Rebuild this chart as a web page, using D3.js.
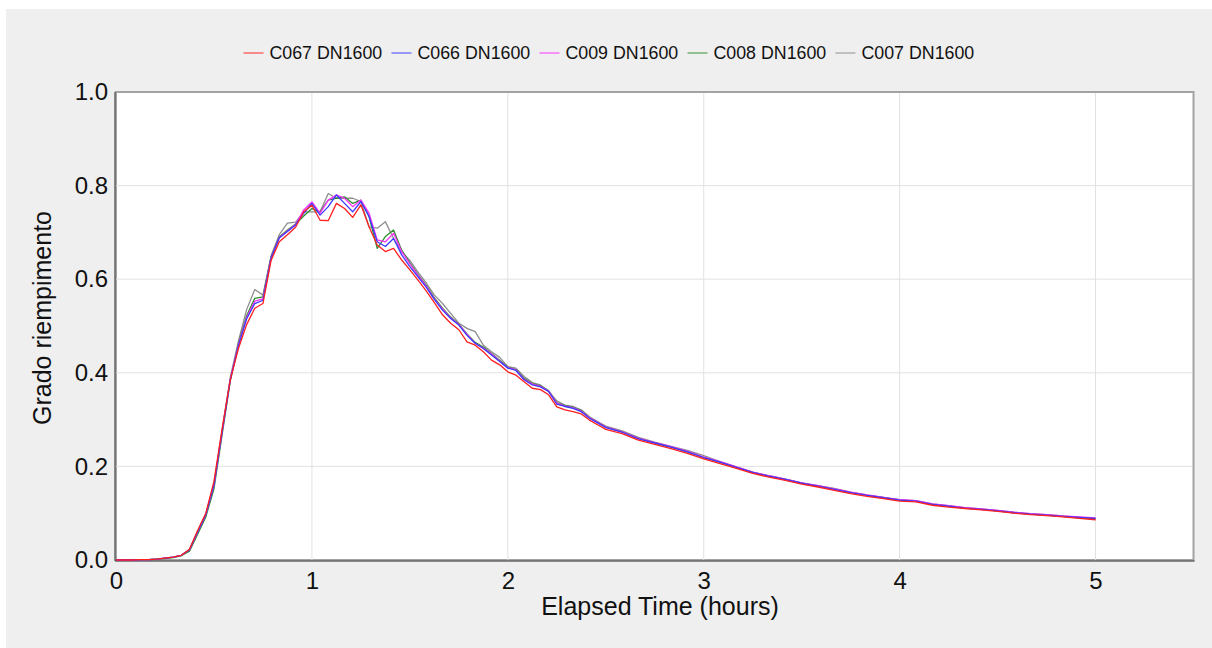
<!DOCTYPE html>
<html>
<head>
<meta charset="utf-8">
<script src="https://cdn.jsdelivr.net/npm/d3@7"></script>
<style>
  body { margin: 0; background: #ffffff; }
  svg { display: block; font-family: "Liberation Sans", Arial, sans-serif; }
</style>
</head>
<body>
<div id="chart"></div>
<script>
const width = 1212;
const height = 648;
const plot = {left: 116, right: 1193.5, top: 92, bottom: 560};

// Data: elapsed minutes (2.5 min steps up to 150, then 5 min steps)
const minutes = [
  0, 2.5, 5, 7.5, 10, 12.5, 15, 17.5, 20, 22.5,
  25, 27.5, 30, 32.5, 35, 37.5, 40, 42.5, 45, 47.5,
  50, 52.5, 55, 57.5, 60, 62.5, 65, 67.5, 70, 72.5,
  75, 77.5, 80, 82.5, 85, 87.5, 90, 92.5, 95, 97.5,
  100, 102.5, 105, 107.5, 110, 112.5, 115, 117.5, 120, 122.5,
  125, 127.5, 130, 132.5, 135, 137.5, 140, 142.5, 145, 147.5, 150,
  155, 160, 165, 170, 175, 180, 185, 190, 195, 200,
  205, 210, 215, 220, 225, 230, 235, 240, 245, 250,
  255, 260, 265, 270, 275, 280, 285, 290, 295, 300
];

const seriesNames = ["C067 DN1600", "C066 DN1600", "C009 DN1600", "C008 DN1600", "C007 DN1600"];

const c067 = [
  0, 0, 0, 0.001, 0.001, 0.002, 0.004, 0.006, 0.010, 0.023,
  0.063, 0.100, 0.168, 0.280, 0.385, 0.452, 0.503, 0.538, 0.548, 0.640,
  0.680, 0.695, 0.711, 0.744, 0.758, 0.726, 0.725, 0.762, 0.751, 0.732,
  0.759, 0.712, 0.673, 0.659, 0.666, 0.641, 0.620, 0.598, 0.575, 0.550,
  0.524, 0.506, 0.492, 0.466, 0.459, 0.445, 0.427, 0.417, 0.402, 0.395,
  0.381, 0.367, 0.364, 0.353, 0.327, 0.321, 0.317, 0.312, 0.299, 0.289, 0.279,
  0.270, 0.256, 0.247, 0.238, 0.228, 0.216, 0.206, 0.196, 0.185, 0.177,
  0.170, 0.162, 0.156, 0.149, 0.142, 0.136, 0.131, 0.126, 0.124, 0.117,
  0.113, 0.110, 0.107, 0.104, 0.100, 0.097, 0.095, 0.092, 0.089, 0.086
];
const c066 = [
  0, 0, 0, 0.001, 0.001, 0.002, 0.004, 0.006, 0.010, 0.022,
  0.060, 0.097, 0.160, 0.274, 0.385, 0.458, 0.515, 0.548, 0.555, 0.645,
  0.688, 0.702, 0.716, 0.741, 0.762, 0.737, 0.755, 0.780, 0.762, 0.744,
  0.766, 0.734, 0.680, 0.670, 0.687, 0.652, 0.627, 0.605, 0.583, 0.557,
  0.534, 0.516, 0.502, 0.480, 0.463, 0.452, 0.438, 0.424, 0.410, 0.405,
  0.385, 0.374, 0.370, 0.360, 0.333, 0.328, 0.324, 0.317, 0.303, 0.293, 0.283,
  0.273, 0.259, 0.250, 0.241, 0.231, 0.219, 0.209, 0.198, 0.187, 0.179,
  0.172, 0.164, 0.158, 0.151, 0.144, 0.138, 0.133, 0.128, 0.126, 0.119,
  0.115, 0.111, 0.108, 0.105, 0.101, 0.098, 0.096, 0.093, 0.091, 0.089
];
const c009 = [
  0, 0, 0, 0.001, 0.001, 0.002, 0.004, 0.006, 0.010, 0.022,
  0.060, 0.097, 0.160, 0.275, 0.386, 0.460, 0.518, 0.553, 0.558, 0.646,
  0.689, 0.703, 0.717, 0.748, 0.765, 0.741, 0.769, 0.780, 0.773, 0.755,
  0.769, 0.741, 0.684, 0.680, 0.698, 0.659, 0.633, 0.608, 0.585, 0.558,
  0.536, 0.517, 0.503, 0.482, 0.463, 0.453, 0.440, 0.425, 0.411, 0.406,
  0.386, 0.376, 0.371, 0.361, 0.335, 0.329, 0.325, 0.318, 0.304, 0.294, 0.284,
  0.274, 0.260, 0.251, 0.242, 0.232, 0.220, 0.210, 0.199, 0.188, 0.180,
  0.173, 0.165, 0.159, 0.152, 0.145, 0.139, 0.134, 0.129, 0.127, 0.120,
  0.116, 0.112, 0.109, 0.106, 0.102, 0.099, 0.097, 0.094, 0.092, 0.090
];
const c008 = [
  0, 0, 0, 0.001, 0.001, 0.002, 0.003, 0.005, 0.009, 0.019,
  0.055, 0.092, 0.152, 0.268, 0.382, 0.462, 0.522, 0.559, 0.562, 0.648,
  0.690, 0.705, 0.718, 0.735, 0.751, 0.744, 0.769, 0.773, 0.776, 0.762,
  0.769, 0.734, 0.666, 0.691, 0.705, 0.662, 0.635, 0.610, 0.587, 0.560,
  0.538, 0.519, 0.504, 0.483, 0.465, 0.455, 0.441, 0.427, 0.412, 0.407,
  0.388, 0.377, 0.372, 0.362, 0.336, 0.330, 0.326, 0.319, 0.304, 0.294, 0.284,
  0.274, 0.260, 0.250, 0.241, 0.231, 0.219, 0.209, 0.198, 0.187, 0.179,
  0.172, 0.164, 0.158, 0.151, 0.144, 0.138, 0.133, 0.128, 0.126, 0.119,
  0.115, 0.111, 0.108, 0.105, 0.101, 0.098, 0.096, 0.093, 0.090, 0.088
];
const c007 = [
  0, 0, 0, 0.001, 0.001, 0.002, 0.004, 0.006, 0.010, 0.022,
  0.061, 0.097, 0.160, 0.278, 0.390, 0.468, 0.535, 0.578, 0.566, 0.650,
  0.695, 0.720, 0.722, 0.744, 0.744, 0.744, 0.783, 0.773, 0.773, 0.773,
  0.766, 0.712, 0.709, 0.723, 0.687, 0.659, 0.640, 0.615, 0.592, 0.566,
  0.548, 0.527, 0.506, 0.495, 0.488, 0.459, 0.445, 0.433, 0.413, 0.410,
  0.392, 0.379, 0.374, 0.360, 0.340, 0.331, 0.328, 0.321, 0.306, 0.296, 0.286,
  0.276, 0.262, 0.252, 0.243, 0.234, 0.223, 0.210, 0.199, 0.188, 0.180,
  0.173, 0.165, 0.159, 0.153, 0.145, 0.139, 0.134, 0.129, 0.127, 0.120,
  0.116, 0.112, 0.109, 0.106, 0.102, 0.099, 0.097, 0.094, 0.091, 0.089
];

const xTicks = [0, 1, 2, 3, 4, 5];
const yTicks = [0, 0.2, 0.4, 0.6, 0.8, 1.0];

const seriesValues = [c067, c066, c009, c008, c007];
const seriesColors = ["#ff1f1f", "#3a3aff", "#ff2eff", "#2f8f2f", "#8e8e8e"];

const series = seriesNames.map((name, i) => ({
  name: name,
  color: seriesColors[i],
  values: minutes.map((m, j) => ({hours: m / 60, value: seriesValues[i][j]}))
}));

// Containers
const svg = d3.select("#chart")
  .append("svg")
    .attr("width", width)
    .attr("height", height);

svg.append("rect")
    .attr("x", 6)
    .attr("y", 9)
    .attr("width", width - 6)
    .attr("height", height - 9)
    .attr("fill", "#efefef");

// Scales
const xScale = d3.scaleLinear()
  .domain([0, 5.5])
  .range([plot.left, plot.right]);

const yScale = d3.scaleLinear()
  .domain([0, 1])
  .range([plot.bottom, plot.top]);

// Plot background and frame
svg.append("rect")
    .attr("x", plot.left)
    .attr("y", plot.top)
    .attr("width", plot.right - plot.left)
    .attr("height", plot.bottom - plot.top)
    .attr("fill", "#ffffff")
    .attr("stroke", "#a3a3a3")
    .attr("stroke-width", 2);

// Gridlines
svg.append("g")
    .attr("class", "grid-x")
  .selectAll("line")
  .data(xTicks.filter(d => d > 0))
  .join("line")
    .attr("x1", d => xScale(d))
    .attr("x2", d => xScale(d))
    .attr("y1", plot.top + 1)
    .attr("y2", plot.bottom + 2)
    .attr("stroke", "#e2e2e2");

svg.append("g")
    .attr("class", "grid-y")
  .selectAll("line")
  .data(yTicks.filter(d => d > 0 && d < 1))
  .join("line")
    .attr("x1", plot.left)
    .attr("x2", plot.right - 1)
    .attr("y1", d => yScale(d))
    .attr("y2", d => yScale(d))
    .attr("stroke", "#e2e2e2");

// Axes
const leftAxis = d3.axisLeft(yScale)
  .tickValues(yTicks)
  .tickFormat(d3.format(".1f"))
  .tickSize(0)
  .tickPadding(8);
svg.append("g")
    .attr("class", "axis-y")
    .attr("transform", `translate(${plot.left}, 0)`)
    .call(leftAxis);

const bottomAxis = d3.axisBottom(xScale)
  .tickValues(xTicks)
  .tickFormat(d3.format("d"))
  .tickSize(0)
  .tickPadding(12);
svg.append("g")
    .attr("class", "axis-x")
    .attr("transform", `translate(0, ${plot.bottom})`)
    .call(bottomAxis);

svg.selectAll(".axis-x .domain, .axis-y .domain").remove();
svg.selectAll(".axis-x text, .axis-y text")
    .attr("font-family", null)
    .style("font-size", "24px")
    .attr("fill", "#111");

svg.append("line")
    .attr("x1", plot.left - 1)
    .attr("x2", plot.left - 1)
    .attr("y1", plot.top)
    .attr("y2", plot.bottom + 1)
    .attr("stroke", "#666")
    .attr("stroke-width", 1.5);
svg.append("line")
    .attr("x1", plot.left - 1)
    .attr("x2", plot.right + 1)
    .attr("y1", plot.bottom + 1)
    .attr("y2", plot.bottom + 1)
    .attr("stroke", "#666")
    .attr("stroke-width", 1.5);

// Lines (last series first, so the red one ends on top)
const lineGenerator = d3.line()
  .x(d => xScale(d.hours))
  .y(d => yScale(d.value));

svg.append("g")
    .attr("class", "lines")
  .selectAll("path")
  .data(series.slice().reverse())
  .join("path")
    .attr("d", d => lineGenerator(d.values))
    .attr("fill", "none")
    .attr("stroke", d => d.color)
    .attr("stroke-width", 1.3)
    .attr("stroke-linejoin", "round");

// Axis titles
svg.append("text")
    .text("Elapsed Time (hours)")
    .attr("x", 660)
    .attr("y", 615)
    .attr("text-anchor", "middle")
    .style("font-size", "25px")
    .attr("fill", "#111");

svg.append("text")
    .text("Grado riempimento")
    .attr("transform", "translate(51, 318) rotate(-90)")
    .attr("text-anchor", "middle")
    .style("font-size", "25px")
    .attr("fill", "#111");

// Legend
const legend = svg.append("g")
    .attr("class", "legend")
  .selectAll("g")
  .data(series)
  .join("g")
    .attr("transform", (d, i) => `translate(${243.5 + i * 148}, 53)`);
legend
  .append("line")
    .attr("x1", 0)
    .attr("x2", 20)
    .attr("stroke", d => d.color)
    .attr("stroke-width", 1.5)
    .attr("stroke-opacity", 0.65);
legend
  .append("text")
    .text(d => d.name)
    .attr("x", 26)
    .attr("dy", "0.35em")
    .style("font-size", "17.8px")
    .attr("fill", "#111");
</script>
</body>
</html>
